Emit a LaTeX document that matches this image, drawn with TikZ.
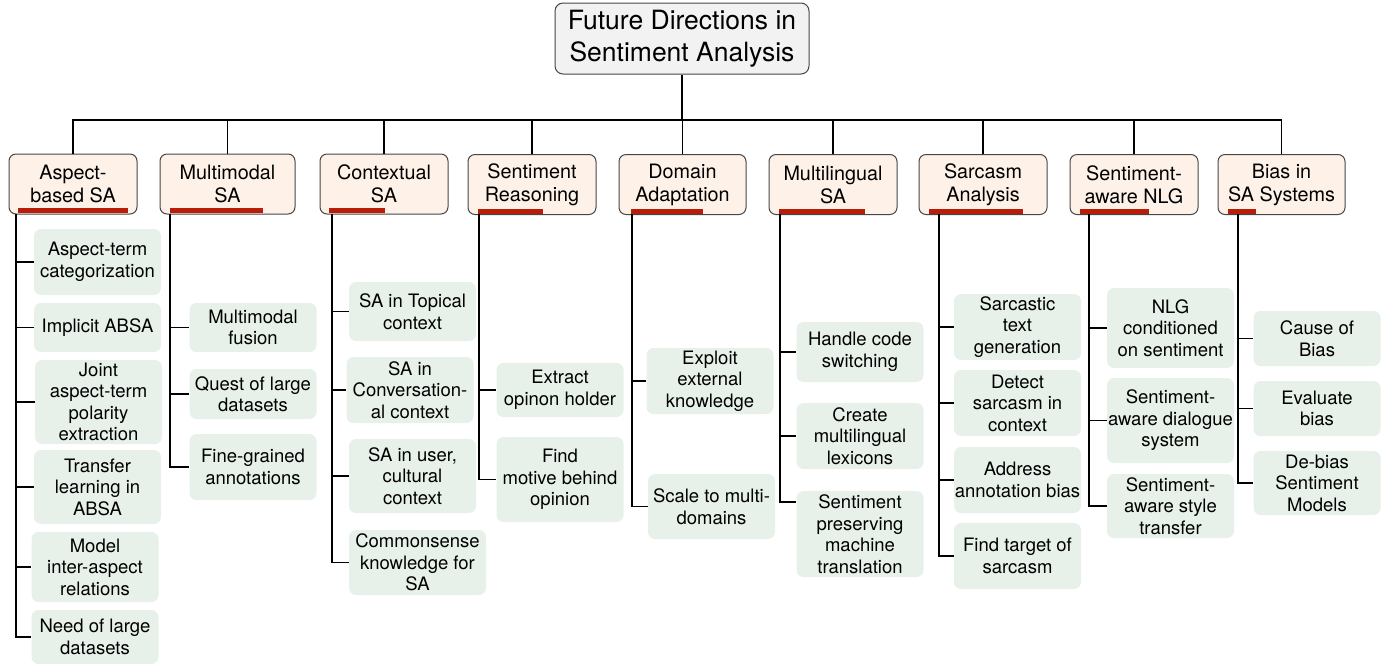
\documentclass[tikz,border=0pt]{standalone}
\usepackage{fontspec}
\setmainfont{TeX Gyre Heros}
\definecolor{topicfill}{RGB}{253,241,232}
\definecolor{leaffill}{RGB}{231,241,233}
\definecolor{rootfill}{RGB}{242,242,242}
\definecolor{framecol}{RGB}{70,70,70}
\definecolor{barcol}{RGB}{186,28,10}
\newcommand{\rootsize}{\fontsize{26.5}{32}\selectfont}
\newcommand{\topicsize}{\fontsize{19.8}{23}\selectfont}
\newcommand{\leafsize}{\fontsize{18.5}{21.5}\selectfont}
\tikzset{every picture/.style={x=1pt,y=-1pt}}
\tikzset{rootbox/.style={draw=framecol,fill=rootfill,line width=1pt,rounded corners=8pt,align=center,inner sep=0pt,minimum width=254pt,minimum height=71pt,font=\rootsize}}
\tikzset{topic/.style={draw=framecol,fill=topicfill,line width=1pt,rounded corners=7pt,align=center,inner sep=0pt,minimum width=128pt,minimum height=60pt,font=\topicsize}}
\tikzset{leaf/.style={fill=leaffill,rounded corners=7pt,align=center,inner sep=0pt,minimum width=127pt,font=\leafsize}}
\tikzset{link/.style={line width=1.3pt}}
\tikzset{bus/.style={line width=1.8pt}}
\tikzset{bar/.style={fill=barcol}}

\begin{document}
\begin{tikzpicture}
\useasboundingbox (0,0) rectangle (1381,665);

% root and topics
\node [rootbox] (root) at (682,38.5) {Future Directions in\\Sentiment Analysis};
\node [topic] (asp) at (73,184) {Aspect-\\based SA};
\node [topic,minimum width=135pt] (mm) at (227.5,184) {Multimodal\\SA};
\node [topic] (ctx) at (384,184) {Contextual\\SA};
\node [topic] (rsn) at (532,184.5) {Sentiment\\Reasoning};
\node [topic,minimum width=127pt] (dom) at (682.5,184.5) {Domain\\Adaptation};
\node [topic] (mling) at (833,184.5) {Multilingual\\SA};
\node [topic] (sarc) at (983,184.5) {Sarcasm\\Analysis};
\node [topic] (nlg) at (1134,184.5) {Sentiment-\\aware NLG};
\node [topic,minimum width=127pt] (bias) at (1281.5,184.5) {Bias in\\SA Systems};

\fill [bar] (18,208) rectangle (128,213);
\fill [bar] (170,208) rectangle (263,213);
\fill [bar] (329,208) rectangle (385,213);
\fill [bar] (478,209) rectangle (543,214);
\fill [bar] (631,209) rectangle (703,214);
\fill [bar] (779,209) rectangle (865,214);
\fill [bar] (929,209) rectangle (1023,214);
\fill [bar] (1080,209) rectangle (1149,214);
\fill [bar] (1228,209) rectangle (1256,214);

\coordinate (j) at (682,120);
\draw [bus] (root) -- (j);
\draw [bus] (asp.north) |- (j) -| (bias.north);
\draw [link] (mm.north) -- (mm.north |- j);
\draw [link] (ctx.north) -- (ctx.north |- j);
\draw [link] (rsn.north) -- (rsn.north |- j);
\draw [link] (dom.north) -- (dom.north |- j);
\draw [link] (mling.north) -- (mling.north |- j);
\draw [link] (sarc.north) -- (sarc.north |- j);
\draw [link] (nlg.north) -- (nlg.north |- j);

% Aspect-based SA
\coordinate (asp0) at (16,214);
\node [leaf,minimum height=66pt] (asp1) at (97.5,262) {Aspect-term\\categorization};
\node [leaf,minimum height=49pt] (asp2) at (97.5,327.5) {Implicit ABSA};
\node [leaf,minimum height=84pt] (asp3) at (98.5,402) {Joint\\aspect-term\\polarity\\extraction};
\node [leaf,minimum height=74pt] (asp4) at (97.5,487) {Transfer\\learning in\\ABSA};
\node [leaf,minimum height=70pt] (asp5) at (95,567) {Model\\inter-aspect\\relations};
\node [leaf,minimum height=54pt] (asp6) at (95,637) {Need of large\\datasets};
\draw [link] (asp0) |- (asp1.west);
\draw [link] (asp0) |- (asp2.west);
\draw [link] (asp0) |- (asp3.west);
\draw [link] (asp0) |- (asp4.west);
\draw [link] (asp0) |- (asp5.west);
\draw [link] (asp0) |- (asp6.west);

% Multimodal SA
\coordinate (mm0) at (170,214);
\node [leaf,minimum height=49pt] (mm1) at (253,327.5) {Multimodal\\fusion};
\node [leaf,minimum height=50pt] (mm2) at (253,394) {Quest of large\\datasets};
\node [leaf,minimum height=66pt] (mm3) at (253,467) {Fine-grained\\annotations};
\draw [link] (mm0) |- (mm1.west);
\draw [link] (mm0) |- (mm2.west);
\draw [link] (mm0) |- (mm3.west);

% Contextual SA
\coordinate (ctx0) at (332,214);
\node [leaf,minimum height=59pt] (ctx1) at (412.5,311.5) {SA in Topical\\context};
\node [leaf,minimum height=66pt] (ctx2) at (410,390) {SA in\\Conversation-\\al context};
\node [leaf,minimum height=74pt] (ctx3) at (412.5,476) {SA in user,\\cultural\\context};
\node [leaf,minimum height=65pt,minimum width=137pt] (ctx4) at (417.5,562.5) {Commonsense\\knowledge for\\SA};
\draw [link] (ctx0) |- (ctx1.west);
\draw [link] (ctx0) |- (ctx2.west);
\draw [link] (ctx0) |- (ctx3.west);
\draw [link] (ctx0) |- (ctx4.west);

% Sentiment Reasoning
\coordinate (rsn0) at (479,214);
\node [leaf,minimum height=54pt] (rsn1) at (560,390) {Extract\\opinon holder};
\node [leaf,minimum height=85pt] (rsn2) at (560,479.5) {Find\\motive behind\\opinion};
\draw [link] (rsn0) |- (rsn1.west);
\draw [link] (rsn0) |- (rsn2.west);

% Domain Adaptation
\coordinate (dom0) at (632,214);
\node [leaf,minimum height=66pt] (dom1) at (710,381) {Exploit\\external\\knowledge};
\node [leaf,minimum height=65pt] (dom2) at (711.5,506.5) {Scale to multi-\\domains};
\draw [link] (dom0) |- (dom1.west);
\draw [link] (dom0) |- (dom2.west);

% Multilingual SA
\coordinate (mling0) at (780,214);
\node [leaf,minimum height=60pt] (mling1) at (860,352) {Handle code\\switching};
\node [leaf,minimum height=66pt] (mling2) at (860,436) {Create\\multilingual\\lexicons};
\node [leaf,minimum height=86pt] (mling3) at (860,534) {Sentiment\\preserving\\machine\\translation};
\draw [link] (mling0) |- (mling1.west);
\draw [link] (mling0) |- (mling2.west);
\draw [link] (mling0) |- ([yshift=32pt]mling3.west);

% Sarcasm Analysis
\coordinate (sarc0) at (939,214);
\node [leaf,minimum height=66pt] (sarc1) at (1017.5,327) {Sarcastic\\text\\generation};
\node [leaf,minimum height=66pt] (sarc2) at (1017.5,403) {Detect\\sarcasm in\\context};
\node [leaf,minimum height=66pt] (sarc3) at (1017.5,480) {Address\\annotation bias};
\node [leaf,minimum height=66pt] (sarc4) at (1017.5,556) {Find target of\\sarcasm};
\draw [link] (sarc0) |- (sarc1.west);
\draw [link] (sarc0) |- (sarc2.west);
\draw [link] (sarc0) |- (sarc3.west);
\draw [link] (sarc0) |- (sarc4.west);

% Sentiment-aware NLG
\coordinate (nlg0) at (1089,214);
\node [leaf,minimum height=80pt] (nlg1) at (1170.5,328) {NLG\\conditioned\\on sentiment};
\node [leaf,minimum height=85pt] (nlg2) at (1170.5,420.5) {Sentiment-\\aware dialogue\\system};
\node [leaf,minimum height=64pt] (nlg3) at (1170.5,506) {Sentiment-\\aware style\\transfer};
\draw [link] (nlg0) |- (nlg1.west);
\draw [link] (nlg0) |- (nlg2.west);
\draw [link] (nlg0) |- (nlg3.west);

% Bias in SA Systems
\coordinate (bias0) at (1238,214);
\node [leaf,minimum height=55pt] (bias1) at (1317,338.5) {Cause of\\Bias};
\node [leaf,minimum height=55pt] (bias2) at (1317,408.5) {Evaluate\\bias};
\node [leaf,minimum height=64pt] (bias3) at (1317,483) {De-bias\\Sentiment\\Models};
\draw [link] (bias0) |- (bias1.west);
\draw [link] (bias0) |- (bias2.west);
\draw [link] (bias0) |- (bias3.west);
\end{tikzpicture}
\end{document}
